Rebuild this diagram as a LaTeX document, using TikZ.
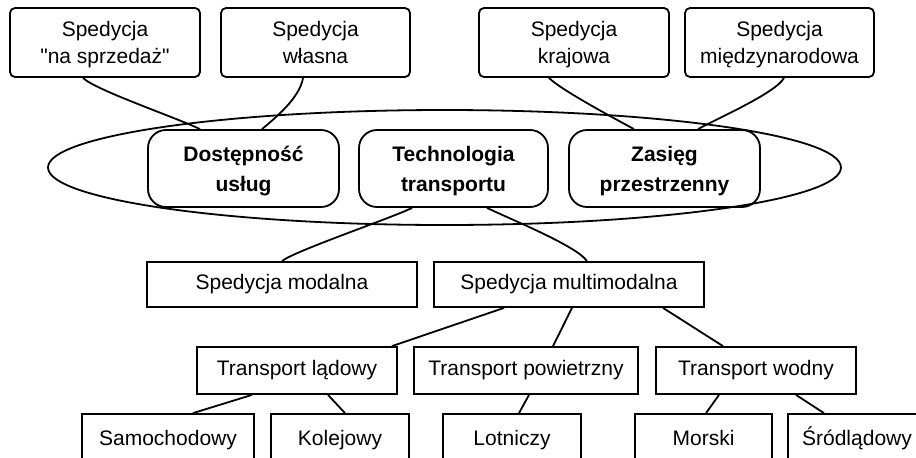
\documentclass[tikz,border=0pt]{standalone}
\usepackage{fontspec}
\setmainfont{Liberation Sans}[Ligatures=TeXOff]
\usetikzlibrary{calc}
\begin{document}
\begin{tikzpicture}[x=1pt,y=-1pt,
  every node/.style={font=\fontsize{21}{26.5}\selectfont, align=center, inner sep=0pt},
  topbox/.style={draw, line width=1.8pt, rounded corners=5pt, minimum width=#1, minimum height=69pt, text depth=0pt},
  midbox/.style={draw, line width=1.8pt, rounded corners=18pt, minimum width=#1, minimum height=77pt, text depth=0pt, font=\fontsize{21}{30}\selectfont\bfseries},
  sqbox/.style={draw, line width=1.8pt, minimum width=#1, minimum height=45pt, text height=15pt, text depth=4.5pt},
  lowbox/.style={draw, line width=1.8pt, minimum width=#1, minimum height=47pt, text height=15pt, text depth=4.5pt},
  botbox/.style={draw, line width=1.8pt, minimum width=#1, minimum height=52pt, text height=15pt, text depth=4.5pt},
  link/.style={line width=1.8pt}]
\useasboundingbox (0,0) rectangle (916,458);
\clip (0,0) rectangle (916,458);
% ellipse
\draw[line width=1.8pt] (444.5,167.5) ellipse [x radius=396.5, y radius=57.5];
% top boxes
\node[topbox=190pt] (b1) at (105,42.5) {Spedycja\\"na sprzedaż"};
\node[topbox=189pt] (b2) at (315.5,42.5) {Spedycja\\własna};
\node[topbox=190pt] (b3) at (574,42.5) {Spedycja\\krajowa};
\node[topbox=189pt] (b4) at (779.5,42.5) {Spedycja\\międzynarodowa};
% middle boxes
\node[midbox=191pt] (dost) at (243.5,168.5) {Dostępność\\usług};
\node[midbox=189pt] (tech) at (453.5,168.5) {Technologia\\transportu};
\node[midbox=191pt] (zas) at (664.5,168.5) {Zasięg\\przestrzenny};
% spedycja
\node[sqbox=270pt] (mod) at (282,284.5) {Spedycja modalna};
\node[sqbox=270pt] (multi) at (569,284.5) {Spedycja multimodalna};
% transport
\node[lowbox=200pt] (lad) at (297,370.5) {Transport lądowy};
\node[lowbox=224pt] (pow) at (526,370.5) {Transport powietrzny};
\node[lowbox=200pt] (wod) at (756,370.5) {Transport wodny};
% bottom
\node[botbox=172pt] (sam) at (168,440) {Samochodowy};
\node[botbox=138pt] (kol) at (340,440) {Kolejowy};
\node[botbox=138pt] (lot) at (512,440) {Lotniczy};
\node[botbox=137pt] (mor) at (703.5,440) {Morski};
\node[botbox=138pt] (sro) at (857,440) {Śródlądowy};
% curved connectors
\draw[link] ($(b1.south)+(-22,0)$) .. controls +(12,12) and +(-25,-12) .. ($(dost.north)+(-43.5,0)$);
\draw[link] ($(b2.south)+(-12.5,0)$) .. controls +(-3,20) and +(12,-10) .. ($(dost.north)+(18.5,0)$);
\draw[link] ($(b3.south)+(-25,0)$) .. controls +(12,12) and +(-22,-12) .. ($(zas.north)+(-30.5,0)$);
\draw[link] ($(b4.south)+(4.5,0)$) .. controls +(-8,15) and +(18,-10) .. ($(zas.north)+(33.5,0)$);
\draw[link] ($(tech.south)+(-41.5,0)$) .. controls +(-20,10) and +(12,-10) .. (mod.north);
\draw[link] ($(tech.south)+(33.5,0)$) .. controls +(25,12) and +(-10,-15) .. ($(multi.north)+(18,0)$);
% straight connectors
\draw[link] ($(multi.south)+(-65,0)$) -- ($(lad.north)+(95,0)$);
\draw[link] ($(multi.south)+(3,0)$) -- ($(pow.north)+(27,0)$);
\draw[link] ($(multi.south)+(94,0)$) -- ($(wod.north)+(-33,0)$);
\draw[link] ($(lad.south)+(-45,0)$) -- ($(sam.north)+(25,0)$);
\draw[link] ($(lad.south)+(31,0)$) -- ($(kol.north)+(5,0)$);
\draw[link] ($(pow.south)+(3,0)$) -- ($(lot.north)+(7,0)$);
\draw[link] ($(wod.south)+(-37,0)$) -- ($(mor.north)+(2.5,0)$);
\draw[link] ($(wod.south)+(40,0)$) -- ($(sro.north)+(-33,0)$);
\end{tikzpicture}
\end{document}
